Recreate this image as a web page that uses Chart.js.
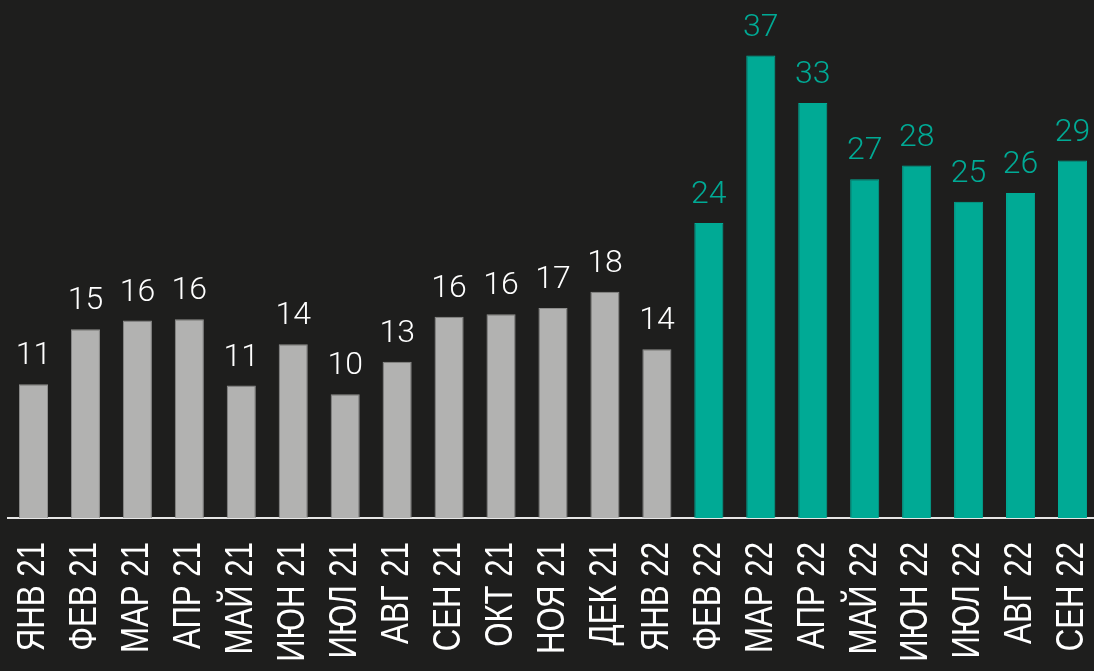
<!DOCTYPE html>
<html>
<head>
<meta charset="utf-8">
<script src="https://cdn.jsdelivr.net/npm/chart.js@4"></script>
<style>
  html, body { margin: 0; padding: 0; background: #1e1e1d; overflow: hidden; }
  #wrap { width: 1100px; height: 671px; }
</style>
</head>
<body>
<div id="wrap"><canvas id="c" width="1100" height="671"></canvas></div>
<script>
const categories = ['ЯНВ 21','ФЕВ 21','МАР 21','АПР 21','МАЙ 21','ИЮН 21','ИЮЛ 21','АВГ 21','СЕН 21','ОКТ 21','НОЯ 21','ДЕК 21','ЯНВ 22','ФЕВ 22','МАР 22','АПР 22','МАЙ 22','ИЮН 22','ИЮЛ 22','АВГ 22','СЕН 22'];
const values = [10.7, 15.1, 15.8, 15.9, 10.6, 13.9, 9.9, 12.5, 16.1, 16.3, 16.8, 18.1, 13.5, 23.6, 37.0, 33.2, 27.1, 28.2, 25.3, 26.0, 28.6];
const valueLabels = ['11','15','16','16','11','14','10','13','16','16','17','18','14','24','37','33','27','28','25','26','29'];
const highlightFrom = 13; // first teal bar (ФЕВ 22)

const GRAY = '#b2b2b1', GRAY_EDGE = '#8e8e8d', TEAL = '#00aa95';
const barColors = categories.map((_, i) => i >= highlightFrom ? TEAL : GRAY);
const edgeColors = categories.map((_, i) => i >= highlightFrom ? TEAL : GRAY_EDGE);
const labelColors = categories.map((_, i) => i >= highlightFrom ? TEAL : '#ffffff');

const valueLabelPlugin = {
  id: 'valueLabels',
  afterDatasetsDraw(chart) {
    const ctx = chart.ctx;
    const meta = chart.getDatasetMeta(0);
    ctx.save();
    ctx.font = '300 32px Roboto';
    ctx.textAlign = 'center';
    ctx.textBaseline = 'alphabetic';
    meta.data.forEach((bar, i) => {
      ctx.fillStyle = labelColors[i];
      ctx.fillText(valueLabels[i], bar.x, bar.y - 20);
    });
    ctx.restore();
  }
};

// Category labels drawn vertically (bottom-to-top) in a condensed style, positioned via the x scale
const condensedTickPlugin = {
  id: 'condensedTicks',
  afterDraw(chart) {
    const ctx = chart.ctx;
    const xs = chart.scales.x;
    ctx.save();
    ctx.font = '400 39px "Liberation Sans", Arial';
    ctx.fillStyle = '#ffffff';
    ctx.textAlign = 'right';
    ctx.textBaseline = 'alphabetic';
    xs.ticks.forEach((t, i) => {
      const x = xs.getPixelForTick(i) + 10.8;
      const y = xs.top + 24;
      ctx.save();
      ctx.translate(x, y);
      ctx.rotate(-Math.PI / 2);
      ctx.scale(0.8, 1);
      ctx.fillText(xs.getLabelForValue(t.value), 0, 0);
      ctx.restore();
    });
    ctx.restore();
  }
};

new Chart(document.getElementById('c'), {
  type: 'bar',
  data: {
    labels: categories,
    datasets: [{
      data: values,
      backgroundColor: barColors,
      borderColor: edgeColors,
      borderWidth: 1,
      barPercentage: 0.56,
      categoryPercentage: 1.0
    }]
  },
  options: {
    responsive: false,
    animation: false,
    layout: { padding: { left: 7.5, right: 1.5, top: 0, bottom: 0 } },
    plugins: { legend: { display: false }, tooltip: { enabled: false } },
    scales: {
      x: {
        grid: { display: true, drawOnChartArea: false, drawTicks: false },
        border: { display: true, color: '#e6e6e6', width: 2 },
        ticks: { display: false, autoSkip: false },
        afterFit(scale) {
          scale.height = 671 - 518;
          scale.paddingLeft = 0;
          scale.paddingRight = 0;
        }
      },
      y: {
        display: false,
        min: 0,
        max: 41.44
      }
    }
  },
  plugins: [valueLabelPlugin, condensedTickPlugin]
});
</script>
</body>
</html>
